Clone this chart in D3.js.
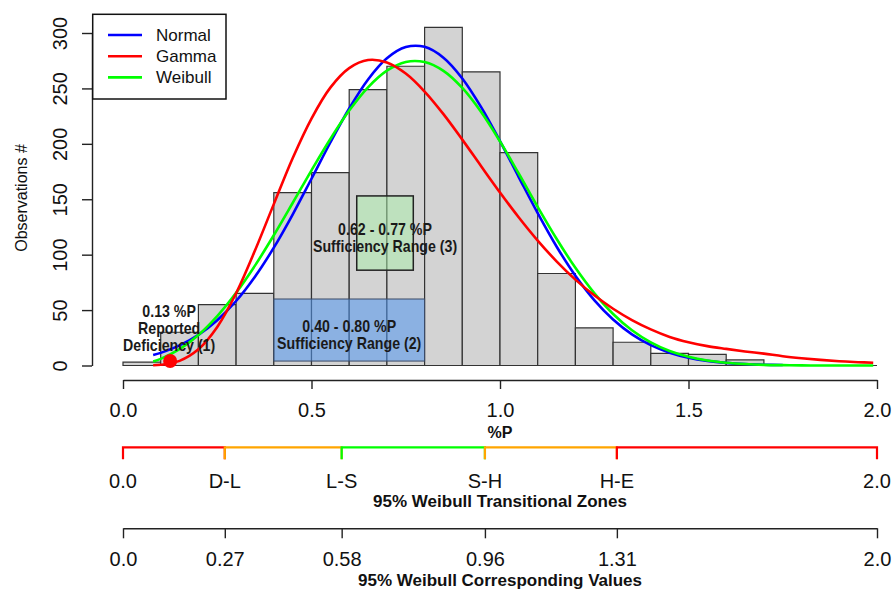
<!DOCTYPE html>
<html><head><meta charset="utf-8">
<script src="https://cdn.jsdelivr.net/npm/d3@7"></script>
<style>
body{margin:0;background:#fff}
svg{display:block}
text{font-family:"Liberation Sans",Arial,sans-serif;fill:#111}
.ann{font-family:"Liberation Sans",Arial,sans-serif;font-weight:bold;font-size:16.5px;fill:#1a1a1a}
</style>
</head><body>
<svg id="chart" width="894" height="591"></svg>
<script>
// ---------- data ----------
const binEdges = [0.0,0.1,0.2,0.3,0.4,0.5,0.6,0.7,0.8,0.9,1.0,1.1,1.2,1.3,1.4,1.5,1.6,1.7,1.8,1.9,2.0];
const binCounts = [3,30,55,65,156,174,249,270,305,265,192,83,34,21,11,10,5,0,0,0];

const curveX   = [0.08,0.10,0.15,0.20,0.25,0.30,0.35,0.40,0.45,0.50,0.55,0.60,0.65,0.70,0.75,0.80,0.85,0.90,0.95,1.00,1.05,1.10,1.15,1.20,1.25,1.30,1.35,1.40,1.45,1.50,1.55,1.60,1.65,1.70,1.75,1.80,1.85,1.90,1.95,1.99];
const normalY  = [9.4,11.4,18.1,27.7,40.9,58.2,80.1,106.3,136.2,168.5,201.2,231.9,258.1,277.2,287.3,287.5,277.7,259.0,233.1,202.5,169.8,137.5,107.4,81.0,59.0,41.5,28.1,18.4,11.6,7.1,4.2,2.4,1.3,0.7,0.4,null,null,null,null,null];
const gammaY   = [0.2,0.6,4.2,14.6,34.8,65.2,103.7,145.6,187.0,222.8,250.7,268.3,275.6,273.4,263.4,247.2,226.8,203.8,179.8,156.1,133.5,112.7,94.0,77.5,63.3,51.2,41.0,32.6,25.8,21.0,17.5,15.0,12.7,10.7,8.4,6.6,5.1,3.9,3.0,2.5];
const weibullY = [3.7,6.0,14.7,27.5,44.6,65.6,90.1,117.5,146.6,176.1,204.4,230.0,251.0,266.0,273.9,273.8,265.8,250.4,228.7,202.2,173.0,143.1,114.4,88.1,65.3,46.5,31.8,20.9,13.1,7.9,4.5,2.5,1.3,0.6,0.3,0.1,0.05,0,0,0];

const xTicks = [0,0.5,1,1.5,2];
const yTicks = [0,50,100,150,200,250,300];

const zoneBreaks  = [0,0.27,0.58,0.96,1.31,2.0];
const zoneLabels  = ["0.0","D-L","L-S","S-H","H-E","2.0"];
const zoneColors  = ["#FF0000","#FFA500","#00FF00","#FFA500","#FF0000"];
const valueLabels = ["0.0","0.27","0.58","0.96","1.31","2.0"];

const legendNames  = ["Normal","Gamma","Weibull"];
const legendColors = ["#0000FF","#FF0000","#00FF00"];

const rangeX0 = [0.40, 0.62];
const rangeX1 = [0.80, 0.77];
const rangeY0 = [4, 86];
const rangeY1 = [60, 153];
const rangeFill = ["rgba(80,150,238,0.55)","rgba(170,240,170,0.5)"];
const rangeText = [["0.40 - 0.80 %P","Sufficiency Range (2)"],["0.62 - 0.77 %P","Sufficiency Range (3)"]];

const deficiencyX = 0.125, deficiencyY = 4;
const deficiencyText = ["0.13 %P","Reported","Deficiency (1)"];

// ---------- chart ----------
const svg = d3.select("#chart");
const x = d3.scaleLinear().domain([0,2]).range([123,877]);
const y = d3.scaleLinear().domain([0,300]).range([365.5,33]);

// histogram bars
const bins = binCounts.map((c,i)=>({x0:binEdges[i],x1:binEdges[i+1],c}));
svg.append("g").selectAll("path").data(bins).join("path")
  .attr("d",d=>`M${x(d.x0)},${y(0)}V${y(d.c)}H${x(d.x1)}V${y(0)}Z`)
  .attr("fill","#D3D3D3").attr("stroke","#333").attr("stroke-width",1.2);

// range boxes
const boxes = rangeX0.map((v,i)=>({x0:v,x1:rangeX1[i],y0:rangeY0[i],y1:rangeY1[i],fill:rangeFill[i],lines:rangeText[i]}));
svg.append("g").selectAll("rect").data(boxes).join("rect")
  .attr("x",d=>x(d.x0)).attr("y",d=>y(d.y1))
  .attr("width",d=>x(d.x1)-x(d.x0)).attr("height",d=>y(d.y0)-y(d.y1))
  .attr("fill",d=>d.fill).attr("stroke",(d,i)=>i===0?"#3a4a66":"#222").attr("stroke-width",(d,i)=>i===0?1:1.5);

// curves
const line = d3.line().defined(d=>d[1]!=null).x(d=>x(d[0])).y(d=>y(d[1])).curve(d3.curveCatmullRom);
[[normalY,"#0000FF"],[weibullY,"#00FF00"],[gammaY,"#FF0000"]].forEach(([arr,col])=>{
  svg.append("path").datum(curveX.map((v,i)=>[v,arr[i]]))
    .attr("d",line).attr("fill","none").attr("stroke",col).attr("stroke-width",2.6);
});

// annotation text (condensed bold)
function annot(cx, baseY, lines, step){
  const g = svg.append("g").attr("transform",`translate(${cx},0) scale(0.86,1)`);
  const t = g.append("text").attr("class","ann").attr("text-anchor","middle");
  lines.forEach((s,i)=>t.append("tspan").attr("x",0).attr("y",baseY+i*step).text(s));
}
boxes.forEach(b=>{
  const cx = x((b.x0+b.x1)/2);
  const midY = (y(b.y0)+y(b.y1))/2;
  annot(cx, midY+2, b.lines, 16.5);
});
annot(x(deficiencyX)-1, 316.7, deficiencyText, 17);

// deficiency dot
svg.append("circle").attr("cx",x(deficiencyX)).attr("cy",y(deficiencyY)).attr("r",7).attr("fill","#FF0000");

// y axis
const yAx = svg.append("g").attr("transform","translate(92,0)")
  .call(d3.axisLeft(y).tickValues(yTicks).tickSize(10).tickSizeOuter(0));
yAx.selectAll("text").attr("transform","rotate(-90)").attr("x",0).attr("y",-25).attr("dy",0)
  .attr("text-anchor","middle").style("font-size","20px").attr("fill","#111");
yAx.selectAll("path,line").attr("stroke","#222").attr("stroke-width",1.4);
svg.append("text").attr("transform","translate(27,198) rotate(-90)").attr("text-anchor","middle")
  .style("font-size","16px").text("Observations #");

// x axis
const xAx = svg.append("g").attr("transform","translate(0,380)")
  .call(d3.axisBottom(x).tickValues(xTicks).tickFormat(d3.format(".1f")).tickSize(9).tickSizeOuter(0).tickPadding(14));
xAx.selectAll("text").style("font-size","20px").attr("fill","#111");
xAx.selectAll("path,line").attr("stroke","#222").attr("stroke-width",1.4);
svg.append("text").attr("x",x(1)).attr("y",438).attr("text-anchor","middle")
  .style("font-size","16px").style("font-weight","bold").text("%P");

// transitional zones
const zy = 447.3;
const zones = zoneColors.map((c,i)=>({a:zoneBreaks[i],b:zoneBreaks[i+1],c}));
svg.append("g").selectAll("path").data(zones).join("path")
  .attr("d",d=>`M${x(d.a)},${zy+12}V${zy}H${x(d.b)}V${zy+12}`)
  .attr("fill","none").attr("stroke",d=>d.c).attr("stroke-width",2.2);
svg.append("g").selectAll("text").data(zoneBreaks).join("text")
  .attr("x",d=>x(d)).attr("y",487.5).attr("text-anchor","middle").style("font-size","20px")
  .text((d,i)=>zoneLabels[i]);
svg.append("text").attr("x",x(1)).attr("y",507).attr("text-anchor","middle")
  .style("font-size","17px").style("font-weight","bold").text("95% Weibull Transitional Zones");

// corresponding values axis
const vAx = svg.append("g").attr("transform","translate(0,528.3)")
  .call(d3.axisBottom(x).tickValues(zoneBreaks).tickFormat((d,i)=>valueLabels[i]).tickSize(10).tickSizeOuter(0).tickPadding(14));
vAx.selectAll("text").style("font-size","20px").attr("fill","#111");
vAx.selectAll("path,line").attr("stroke","#222").attr("stroke-width",1.4);
svg.append("text").attr("x",x(1)).attr("y",586).attr("text-anchor","middle")
  .style("font-size","17px").style("font-weight","bold").text("95% Weibull Corresponding Values");

// legend
const lg = svg.append("g");
lg.append("rect").attr("x",92.7).attr("y",14.3).attr("width",133.3).attr("height",84.7)
  .attr("fill","#fff").attr("stroke","#111").attr("stroke-width",1.5);
const items = lg.selectAll("g.item").data(legendNames).join("g").attr("class","item")
  .attr("transform",(d,i)=>`translate(0,${35+i*21.2})`);
items.append("line").attr("x1",108).attr("x2",142).attr("stroke",(d,i)=>legendColors[i]).attr("stroke-width",2.6);
items.append("text").attr("x",156).attr("y",6).style("font-size","17px").text(d=>d);
</script>
</body></html>
